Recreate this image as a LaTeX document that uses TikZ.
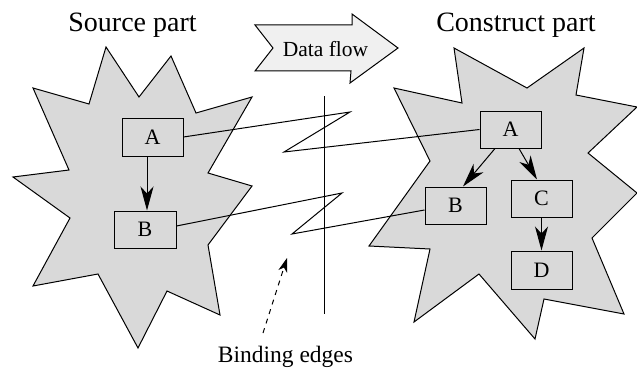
\documentclass[tikz,border=0pt]{standalone}
\usepackage{fontspec}
\setmainfont{Liberation Serif}
\usetikzlibrary{arrows.meta}
\definecolor{stargray}{RGB}{217,217,217}
\definecolor{flowgray}{RGB}{240,240,240}
\tikzset{
  outline/.style={draw=black, line width=1pt, line join=miter},
  star/.style={outline, fill=stargray},
  box/.style={draw=black, line width=1pt, minimum width=61pt, minimum height=37pt, inner sep=0pt, font=\rmfamily\fontsize{22}{22}\selectfont},
  arr/.style={line width=1pt, -{Stealth[length=24pt,width=13pt,inset=7pt]}},
  bind/.style={line width=1pt, line join=miter},
  title/.style={anchor=base, inner sep=0pt, font=\rmfamily\fontsize{28}{28}\selectfont},
}
\begin{document}
\begin{tikzpicture}[x=1pt,y=-1pt]
\useasboundingbox (0,0) rectangle (637,369);
% source star
\draw[star] (106,47) -- (139,97) -- (171,56) -- (196,113) -- (252,97) -- (208,173) -- (252,186) -- (208,245) -- (220,315) -- (167,291) -- (138,348) -- (98,274) -- (33,286) -- (70,218) -- (13,177) -- (69,170) -- (33,88) -- (89,104) -- cycle;
% construct star
\draw[star] (454,48) -- (527,88) -- (584,48) -- (576,95) -- (637,107) -- (588,153) -- (637,193) -- (592,238) -- (624,314) -- (544,299) -- (535,339) -- (479,274) -- (414,322) -- (430,249) -- (369,246) -- (430,161) -- (394,88) -- (462,103) -- cycle;
% data flow arrow
\draw[outline, fill=flowgray] (255,25) -- (273,48) -- (255,71) -- (351,71) -- (350,83) -- (398,48) -- (352,14) -- (352,25) -- cycle;
\node[anchor=base, inner sep=0pt, font=\rmfamily\fontsize{21.5}{21.5}\selectfont] (flow) at (325.5,56.5) {Data flow};
% titles
\node[title] (srctitle) at (132.5,32) {Source part};
\node[title] (contitle) at (516,32) {Construct part};
% boxes
\node[box, minimum height=38pt] (sA) at (152.5,137) {A};
\node[box, minimum width=62pt] (sB) at (145,229.5) {B};
\node[box] (rA) at (510.5,129.5) {A};
\node[box] (rB) at (455.5,205.5) {B};
\node[box] (rC) at (541.5,198.5) {C};
\node[box, minimum height=38pt] (rD) at (541.5,270) {D};
% internal edges
\draw[arr] ([xshift=-5.5pt]sA.south) -- ([xshift=2pt]sB.north);
\draw[arr] ([xshift=-15.5pt]rA.south) -- ([xshift=7.5pt]rB.north);
\draw[arr] ([xshift=8.5pt]rA.south) -- ([xshift=-4.5pt]rC.north);
\draw[arr] (rC.south) -- (rD.north);
% binding edges
\coordinate (z1a) at (350,112);
\coordinate (z1b) at (284,152);
\coordinate (z2a) at (342,193);
\coordinate (z2b) at (292,234);
\draw[bind] (sA.east) -- (z1a) -- (z1b) -- (rA.west);
\draw[bind] ([yshift=3.5pt]sB.east) -- (z2a) -- (z2b) -- ([yshift=-4.5pt]rB.west);
% separator
\coordinate (sepTop) at (324,96);
\coordinate (sepBot) at (324,314);
\draw[line width=1pt] (sepTop) -- (sepBot);
% label
\node[anchor=base, inner sep=0pt, font=\rmfamily\fontsize{23.5}{23.5}\selectfont] (lbl) at (285.5,362) {Binding edges};
\coordinate (dashStart) at (263,333);
\coordinate (dashEnd) at (287,258);
\draw[line width=1pt, dash pattern=on 5pt off 5pt, -{Stealth[length=14pt,width=9pt,inset=4pt]}] (dashStart) -- (dashEnd);
\end{tikzpicture}
\end{document}
